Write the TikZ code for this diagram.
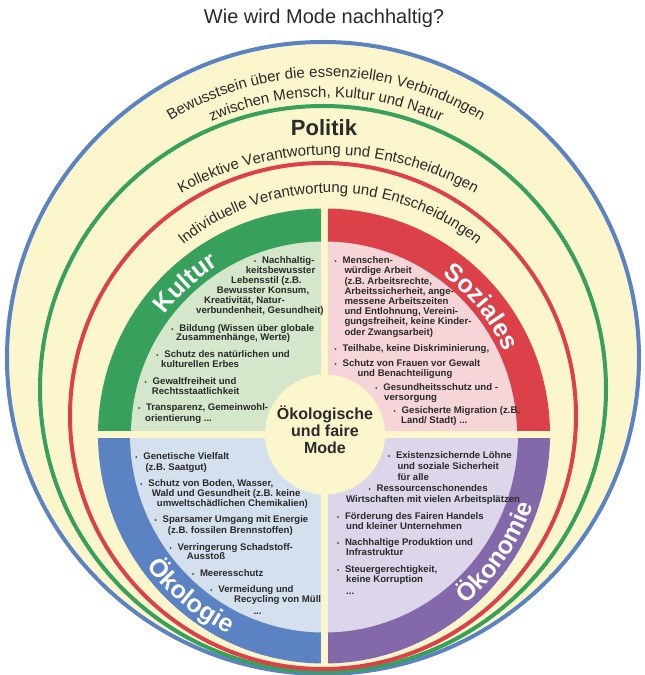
\documentclass[tikz,border=0pt]{standalone}
\usepackage{fontspec}
\setmainfont{Liberation Sans}
\usetikzlibrary{decorations.text}
\definecolor{ylw}{HTML}{FCF6CD}
\definecolor{bluec}{HTML}{5B82C2}
\definecolor{greenc}{HTML}{37A05C}
\definecolor{redc}{HTML}{DC414A}
\definecolor{purplec}{HTML}{8369AA}
\definecolor{lgreen}{HTML}{D4E7CB}
\definecolor{lpink}{HTML}{F6D5D8}
\definecolor{lblue}{HTML}{D5E0EF}
\definecolor{lpurple}{HTML}{DDD6EA}
\definecolor{txt}{HTML}{2A2A2A}
\newcommand\mybul{\makebox[8pt][l]{\fontsize{6}{6}\selectfont\textbullet}}
\newcommand\bandfont{\bfseries\fontsize{25}{25}\selectfont}
\newcommand\ringfont{\fontsize{15}{15}\selectfont}
\tikzset{
  bl/.style={font=\bfseries\fontsize{9.6}{10}\selectfont, text=txt, inner sep=0pt, anchor=base west},
  ringline/.style={line width=4pt},
  bandtext/.style={decorate, decoration={text along path, text align=center, text color=white, text={|\bandfont|#1}}},
  ringtext/.style={decorate, decoration={text along path, text align=center, text color=txt, text={|\ringfont|#1}}}
}
\begin{document}
\begin{tikzpicture}[x=1pt,y=1pt]
\useasboundingbox (0,0) rectangle (645,675);
\fill[white] (0,0) rectangle (645,675);
% rings
\fill[ylw] (323,317) circle[radius=316];
\draw[ringline, bluec] (323,317) circle[radius=316];
\draw[ringline, greenc] (323,286) circle[radius=283];
\draw[ringline, redc] (323,259) circle[radius=253];
% quadrants
\fill[greenc] (324,240.5) -- (98,240.5) arc[start angle=180,end angle=90,radius=226] -- cycle;
\fill[lgreen] (324,240.5) -- (131,240.5) arc[start angle=180,end angle=90,radius=193] -- cycle;
\fill[redc] (324,240.5) -- (324,466.5) arc[start angle=90,end angle=0,radius=226] -- cycle;
\fill[lpink] (324,240.5) -- (324,433.5) arc[start angle=90,end angle=0,radius=193] -- cycle;
\fill[bluec] (324,240.5) -- (98,240.5) arc[start angle=180,end angle=270,x radius=226,y radius=229] -- cycle;
\fill[lblue] (324,240.5) -- (130,240.5) arc[start angle=180,end angle=270,x radius=194,y radius=198] -- cycle;
\fill[purplec] (324,240.5) -- (324,11.5) arc[start angle=270,end angle=360,x radius=226,y radius=229] -- cycle;
\fill[lpurple] (324,240.5) -- (324,42.5) arc[start angle=270,end angle=360,x radius=194,y radius=198] -- cycle;
\fill[ylw] (320.5,9) rectangle (327.5,470);
\fill[ylw] (95,237) rectangle (553,244);
\fill[ylw] (325,240.5) circle[radius=60];
% band titles
\path[bandtext=Kultur] ([shift={(175:199)}]324,240.5) arc[start angle=175,end angle=90,radius=199];
\path[bandtext=Soziales] ([shift={(78:199)}]324,240.5) arc[start angle=78,end angle=0,radius=199];
\path[bandtext=Ökologie] ([shift={(190:221)}]324,240.5) arc[start angle=190,end angle=271,radius=221];
\path[bandtext=Ökonomie] ([shift={(285:221)}]324,240.5) arc[start angle=285,end angle=366,radius=221];
% ring texts
\path[ringtext={Bewusstsein über die essenziellen Verbindungen}] ([shift={(150:296)}]326,302) arc[start angle=150,end angle=30,radius=296];
\path[ringtext={zwischen Mensch, Kultur und Natur}] ([shift={(150:276)}]326,302) arc[start angle=150,end angle=30,radius=276];
\path[ringtext={Kollektive Verantwortung und Entscheidungen}] ([shift={(150:300)}]328,220) arc[start angle=150,end angle=30,radius=300];
\path[ringtext={Individuelle Verantwortung und Entscheidungen}] ([shift={(160:234)}]330,248) arc[start angle=160,end angle=20,radius=234];
% title and labels
\node[font=\fontsize{20}{20}\selectfont, text=txt] (title) at (324,657) {Wie wird Mode nachhaltig?};
\node[font=\bfseries\fontsize{22}{22}\selectfont, text=txt] (pol) at (324,547) {Politik};
\node[font=\bfseries\fontsize{16}{17}\selectfont, text=txt, align=center] (mid) at (325,245) {Ökologische\\und faire\\Mode};
% Kultur
\node[bl] (k1) at (254,411) {\mybul Nachhaltig-};
\node[bl] (k2) at (245.7,401) {keitsbewusster};
\node[bl] (k3) at (231,391) {Lebensstil (z.B.};
\node[bl] (k4) at (216.7,381) {Bewusster Konsum,};
\node[bl] (k5) at (204,371) {Kreativität, Natur-};
\node[bl] (k6) at (196,361) {verbundenheit, Gesundheit)};
\node[bl] (k7) at (171.2,343.7) {\mybul Bildung (Wissen über globale};
\node[bl] (k8) at (176,334.7) {Zusammenhänge, Werte)};
\node[bl] (k9) at (156.2,317) {\mybul Schutz des natürlichen und};
\node[bl] (k10) at (161,307.7) {kulturellen Erbes};
\node[bl] (k11) at (144.5,290.3) {\mybul Gewaltfreiheit und};
\node[bl] (k12) at (151.7,280.3) {Rechtsstaatlichkeit};
\node[bl] (k13) at (137.8,264.7) {\mybul Transparenz, Gemeinwohl-};
\node[bl] (k14) at (145,253.7) {orientierung ...};
% Soziales
\node[bl] (s1) at (334.5,411.3) {\mybul Menschen-};
\node[bl] (s2) at (344.3,401.1) {würdige Arbeit};
\node[bl] (s3) at (344.3,390.9) {(z.B. Arbeitsrechte,};
\node[bl] (s4) at (344.3,380.7) {Arbeitssicherheit, ange-};
\node[bl] (s5) at (344.3,370.5) {messene Arbeitszeiten};
\node[bl] (s6) at (344.3,360.3) {und Entlohnung, Vereini-};
\node[bl] (s7) at (344.3,350.1) {gungsfreiheit, keine Kinder-};
\node[bl] (s8) at (344.3,339.9) {oder Zwangsarbeit)};
\node[bl] (s9) at (334.5,323) {\mybul Teilhabe, keine Diskriminierung,};
\node[bl] (s10) at (334.5,308) {\mybul Schutz von Frauen vor Gewalt};
\node[bl] (s11) at (357.3,298) {und Benachteiligung};
\node[bl] (s12) at (375.2,284.7) {\mybul Gesundheitsschutz und -};
\node[bl] (s13) at (384,274.7) {versorgung};
\node[bl] (s14) at (393.5,261.3) {\mybul Gesicherte Migration (z.B.};
\node[bl] (s15) at (401,251.3) {Land/ Stadt) ...};
% Oekologie
\node[bl] (e1) at (135.2,215.3) {\mybul Genetische Vielfalt};
\node[bl] (e2) at (145.3,204.7) {(z.B. Saatgut)};
\node[bl] (e3) at (140.2,188.7) {\mybul Schutz von Boden, Wasser,};
\node[bl] (e4) at (151.7,178.7) {Wald und Gesundheit (z.B. keine};
\node[bl] (e5) at (156.7,168.7) {umweltschädlichen Chemikalien)};
\node[bl] (e6) at (154.5,152) {\mybul Sparsamer Umgang mit Energie};
\node[bl] (e7) at (167.7,141.3) {(z.B. fossilen Brennstoffen)};
\node[bl] (e8) at (169.5,124.7) {\mybul Verringerung Schadstoff-};
\node[bl] (e9) at (186.7,115.3) {Ausstoß};
\node[bl] (e10) at (191.8,98) {\mybul Meeresschutz};
\node[bl] (e11) at (210.2,82) {\mybul Vermeidung und};
\node[bl] (e12) at (234,72) {Recycling von Müll};
\node[bl] (e13) at (253.3,60.3) {...};
% Oekonomie
\node[bl] (o1) at (387.8,216) {\mybul Existenzsichernde Löhne};
\node[bl] (o2) at (397.3,205.3) {und soziale Sicherheit};
\node[bl] (o3) at (397.3,194.7) {für alle};
\node[bl] (o4) at (368.5,183) {\mybul Ressourcenschonendes};
\node[bl] (o5) at (346,172) {Wirtschaften mit vielen Arbeitsplätzen};
\node[bl] (o6) at (336.8,155.3) {\mybul Förderung des Fairen Handels};
\node[bl] (o7) at (346,145.3) {und kleiner Unternehmen};
\node[bl] (o8) at (336.8,129.3) {\mybul Nachhaltige Produktion und};
\node[bl] (o9) at (346,119.3) {Infrastruktur};
\node[bl] (o10) at (336.8,102.7) {\mybul Steuergerechtigkeit,};
\node[bl] (o11) at (346,92.7) {keine Korruption};
\node[bl] (o12) at (346,80.3) {...};
\end{tikzpicture}
\end{document}
